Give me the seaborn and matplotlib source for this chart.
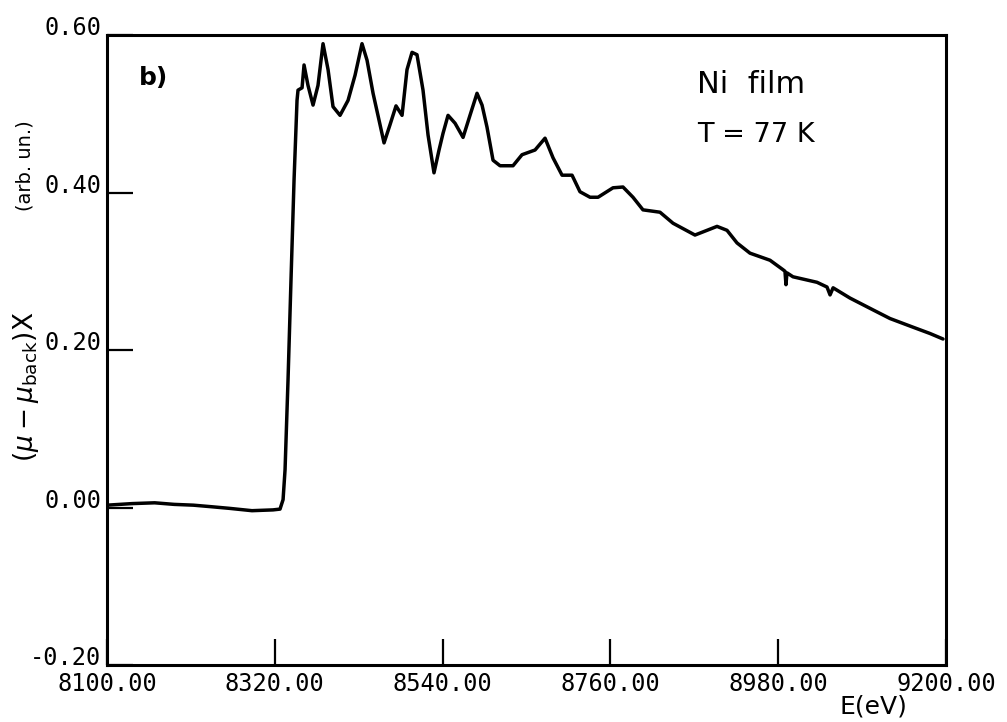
import matplotlib
matplotlib.use("Agg")
import matplotlib.pyplot as plt
import seaborn as sns
import pandas as pd

# Ni K-edge absorption, background-subtracted, Ni film at 77 K
energy_ev = [
    8100.0, 8133.0, 8162.4, 8188.0, 8213.2, 8237.1, 8260.0, 8290.0, 8317.6, 8326.8,
    8330.8, 8333.4, 8337.3, 8341.2, 8345.2, 8349.1, 8350.4, 8355.7, 8358.3, 8363.5,
    8370.1, 8376.6, 8383.2, 8389.8, 8396.3, 8405.5, 8416.0, 8425.2, 8434.3, 8440.9,
    8448.8, 8456.6, 8463.2, 8471.0, 8478.9, 8486.8, 8493.3, 8499.9, 8506.4, 8514.3,
    8520.9, 8528.7, 8535.3, 8540.5, 8547.1, 8556.3, 8566.8, 8575.9, 8585.1, 8591.7,
    8598.2, 8606.1, 8615.3, 8632.3, 8644.1, 8661.2, 8674.3, 8684.8, 8696.6, 8709.7,
    8720.1, 8733.3, 8743.8, 8763.4, 8776.5, 8789.6, 8802.7, 8825.0, 8842.1, 8870.9,
    8886.7, 8899.8, 8912.9, 8926.0, 8943.0, 8969.3, 8986.3, 8988.9, 8990.2, 8991.5,
    8999.4, 9030.9, 9044.0, 9048.0, 9052.0, 9074.1, 9104.3, 9126.6, 9156.8, 9179.0,
    9196.1,
]
absorption = [
    0.003, 0.005, 0.006, 0.004, 0.003, 0.001, -0.001, -0.004, -0.003, -0.002,
    0.010, 0.048, 0.162, 0.289, 0.416, 0.517, 0.530, 0.533, 0.562, 0.536,
    0.511, 0.536, 0.589, 0.556, 0.509, 0.498, 0.517, 0.549, 0.589, 0.568,
    0.526, 0.492, 0.463, 0.486, 0.510, 0.498, 0.556, 0.578, 0.575, 0.530,
    0.473, 0.425, 0.454, 0.475, 0.498, 0.488, 0.470, 0.498, 0.526, 0.511,
    0.483, 0.441, 0.434, 0.434, 0.448, 0.454, 0.469, 0.444, 0.422, 0.422,
    0.401, 0.394, 0.394, 0.406, 0.407, 0.394, 0.378, 0.375, 0.361, 0.346,
    0.352, 0.357, 0.352, 0.336, 0.323, 0.314, 0.302, 0.300, 0.283, 0.298,
    0.293, 0.286, 0.280, 0.270, 0.279, 0.266, 0.251, 0.240, 0.229, 0.221,
    0.214,
]
x_ticks = [8100, 8320, 8540, 8760, 8980, 9200]
y_ticks = [-0.20, 0.00, 0.20, 0.40, 0.60]

df = pd.DataFrame({"E": energy_ev, "mu": absorption})

sns.set_theme(style="white")
plt.rcParams["font.family"] = ["DejaVu Sans"]

fig = plt.figure(figsize=(10.07, 7.22), dpi=100)
ax = fig.add_axes([0.1063, 0.0789, 0.8331, 0.8726])

sns.lineplot(data=df, x="E", y="mu", ax=ax, color="black", linewidth=2.5,
             estimator=None, sort=False)

ax.set_xlim(8100, 9200)
ax.set_ylim(-0.20, 0.60)
ax.set_xticks(x_ticks)
ax.set_yticks(y_ticks)
ax.set_xticklabels([f"{v:.2f}" for v in x_ticks])
ax.set_yticklabels([f"{v:.2f}" for v in y_ticks])
ax.set_xlabel("")
ax.set_ylabel("")

for s in ax.spines.values():
    s.set_color("black")
    s.set_linewidth(2.2)

ax.tick_params(axis="both", which="major", direction="in", length=19,
               width=1.6, color="black", bottom=True, left=True,
               top=False, right=False)
ax.tick_params(axis="x", pad=5)
ax.tick_params(axis="y", pad=4)
for lab in ax.get_xticklabels() + ax.get_yticklabels():
    lab.set_fontfamily("DejaVu Sans Mono")
    lab.set_fontsize(17)
    lab.set_color("black")
for lab in ax.get_yticklabels():
    lab.set_verticalalignment("baseline")

ax.text(0.038, 0.932, "b)", transform=ax.transAxes, fontsize=18,
        fontweight="bold", color="black", ha="left", va="center")
ax.text(0.703, 0.922, "Ni  film", transform=ax.transAxes, fontsize=22,
        color="black", ha="left", va="center")
ax.text(0.703, 0.841, "T = 77 K", transform=ax.transAxes, fontsize=19.5,
        color="black", ha="left", va="center")

fig.text(0.025, 0.771, "(arb. un.)", rotation=90, fontsize=14,
         ha="center", va="center", color="black")
fig.text(0.026, 0.464, r"$(\mu - \mu_{\rm back})$X", rotation=90, fontsize=19,
         ha="center", va="center", color="black")
fig.text(0.867, 0.022, "E(eV)", fontsize=18, ha="center", va="center",
         color="black")

fig.savefig("out.png", dpi=100, facecolor="white")
